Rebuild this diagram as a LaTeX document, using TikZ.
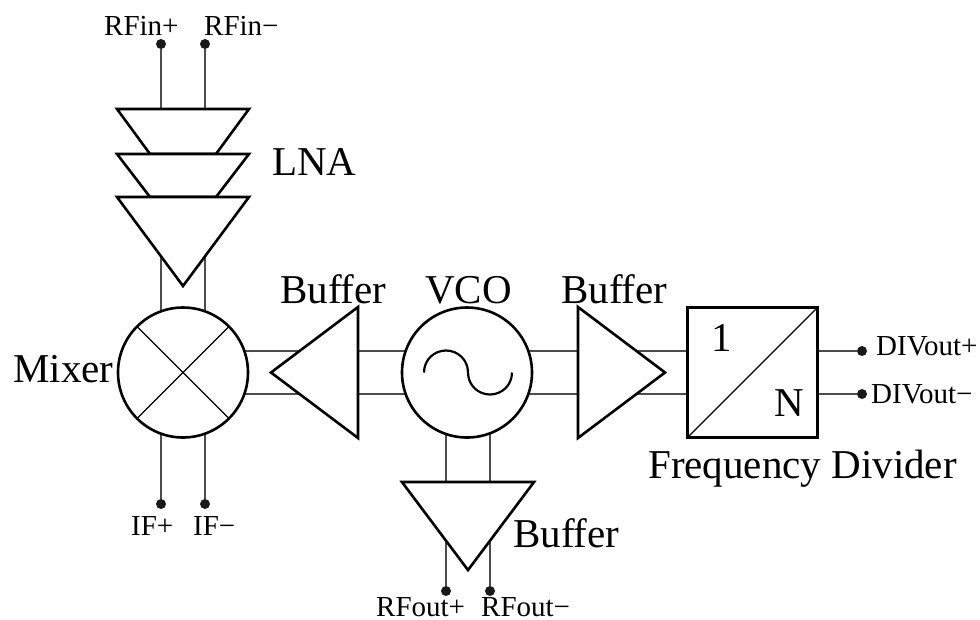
\documentclass[tikz,border=0pt]{standalone}
\usepackage{fontspec}
\setmainfont{Liberation Serif}
\tikzset{
  wire/.style={draw=black!70,line width=1.1pt},
  part/.style={draw=black,fill=white,line width=2.6pt,line join=miter},
  inner/.style={draw=black,line width=1.1pt},
  pin/.style={circle,fill=black!90,inner sep=0pt,minimum size=10pt},
  big/.style={inner sep=0pt,anchor=base west,font=\fontsize{41}{41}\selectfont},
  small/.style={inner sep=0pt,anchor=base west,font=\fontsize{29}{29}\selectfont},
  blk/.style={draw=black,fill=white,line width=2.6pt,minimum size=130pt,inner sep=0pt,outer sep=0pt}
}
\begin{document}
\begin{tikzpicture}[x=1pt,y=-1pt]
\useasboundingbox (0,0) rectangle (980,619);
% pins
\node[pin] (pa) at (161,44) {};
\node[pin] (pb) at (205,44) {};
\node[pin] (pc) at (161,504) {};
\node[pin] (pd) at (205,504) {};
\node[pin] (pe) at (446,591) {};
\node[pin] (pf) at (490,591) {};
\node[pin] (pg) at (862,351) {};
\node[pin] (ph) at (862,394) {};
% wire ends
\coordinate (la) at (161,120); \coordinate (lb) at (205,120);
\coordinate (ma) at (161,400); \coordinate (mb) at (205,400);
\coordinate (ha) at (220,351); \coordinate (hb) at (220,394);
\coordinate (va) at (500,351); \coordinate (vb) at (500,394);
\coordinate (wa) at (420,351); \coordinate (wb) at (420,394);
\coordinate (xa) at (446,420); \coordinate (xb) at (490,420);
\coordinate (da) at (720,351); \coordinate (db) at (720,394);
% wires
\draw[wire] (pa) -- (ma); \draw[wire] (pb) -- (mb);
\draw[wire] (pc) -- (ma); \draw[wire] (pd) -- (mb);
\draw[wire] (ha) -- (wa); \draw[wire] (hb) -- (wb);
\draw[wire] (va) -- (da); \draw[wire] (vb) -- (db);
\draw[wire] (pe) -- (xa); \draw[wire] (pf) -- (xb);
\draw[wire] (da) -- (pg); \draw[wire] (db) -- (ph);
% LNA
\path[part] (117,109) -- (249,109) -- (216,154) -- (150,154) -- cycle;
\path[part] (117,154) -- (249,154) -- (216,197) -- (150,197) -- cycle;
\path[part] (117,197) -- (249,197) -- (183,286) -- cycle;
% mixer
\node[blk,circle] (mix) at (183,372.5) {};
\draw[inner] (mix.north west) -- (mix.south east);
\draw[inner] (mix.north east) -- (mix.south west);
% buffers
\path[part] (271,372.5) -- (358,307) -- (358,438) -- cycle;
\path[part] (665,372.5) -- (578,307) -- (578,438) -- cycle;
% vco
\node[blk,circle] (vco) at (467,372.5) {};
\draw[line width=2.2pt] (424,372.5) .. controls (424,360) and (434,350.5) .. (446,350.5) .. controls (458,350.5) and (468,360) .. (468,372.5) .. controls (468,385) and (478,394.5) .. (490,394.5) .. controls (502,394.5) and (512,385) .. (512,372.5);
% bottom buffer
\path[part] (402,482) -- (534,482) -- (468,570) -- cycle;
% divider
\node[blk,rectangle] (div) at (752.5,372.5) {};
\draw[inner] (div.south west) -- (div.north east);
% labels
\node[small] (t1) at (104,35) {RFin+};
\node[small] (t2) at (204,35) {RFin−};
\node[small] (t3) at (131,535) {IF+};
\node[small] (t4) at (193,535) {IF−};
\node[small] (t5) at (376,616) {RFout+};
\node[small] (t6) at (481,616) {RFout−};
\node[small] (t7) at (876,355) {DIVout+};
\node[small] (t8) at (871,403) {DIVout−};
\node[big] (t9) at (272,175) {LNA};
\node[big] (t10) at (13,382) {Mixer};
\node[big] (t11) at (280,303) {Buffer};
\node[big] (t12) at (425,303) {VCO};
\node[big] (t13) at (561,303) {Buffer};
\node[big] (t14) at (513,547) {Buffer};
\node[big] (t15) at (648,478) {Frequency Divider};
\node[big] (t16) at (711,351) {1};
\node[big] (t17) at (774,416) {N};
\end{tikzpicture}
\end{document}
